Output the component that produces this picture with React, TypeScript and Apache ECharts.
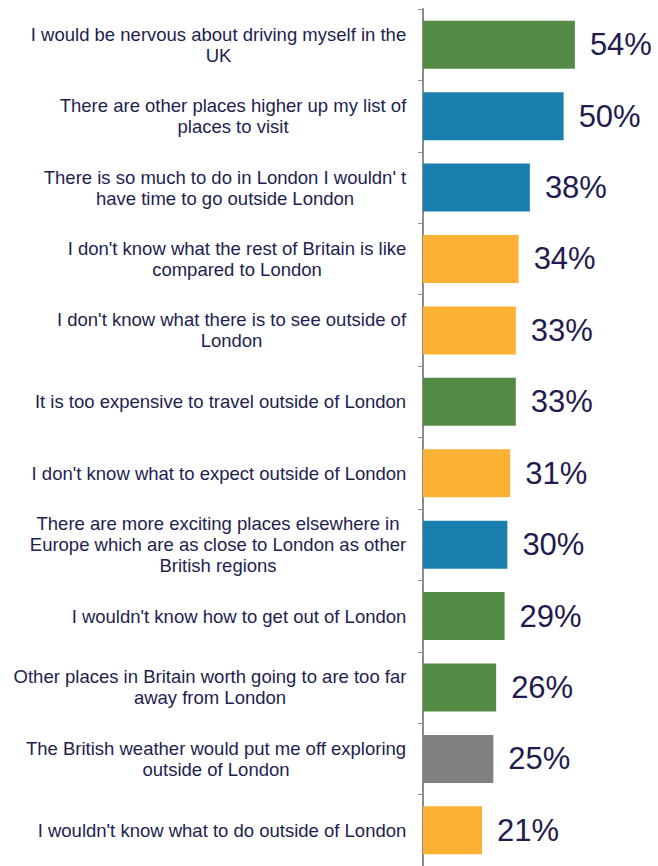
import React, { useEffect, useRef } from "react";
import * as echarts from "echarts";

const categories = [
  "I would be nervous about driving myself in the\nUK",
  "There are other places higher up my list of\nplaces to visit",
  "There is so much to do in London I wouldn' t\nhave time to go outside London",
  "I don't know what the rest of Britain is like\ncompared to London",
  "I don't know what there is to see outside of\nLondon",
  "It is too expensive to travel outside of London",
  "I don't know what to expect outside of London",
  "There are more exciting places elsewhere in\nEurope which are as close to London as other\nBritish regions",
  "I wouldn't know how to get out of London",
  "Other places in Britain worth going to are too far\naway from London",
  "The British weather would put me off exploring\noutside of London",
  "I wouldn't know what to do outside of London",
];

const values = [54, 50, 38, 34, 33, 33, 31, 30, 29, 26, 25, 21];

const GREEN = "#538a44";
const BLUE = "#1a7fae";
const ORANGE = "#fbb234";
const GRAY = "#808080";

const barColors = [GREEN, BLUE, BLUE, ORANGE, ORANGE, GREEN, ORANGE, BLUE, GREEN, GREEN, GRAY, ORANGE];

const LABEL_FONT_FAMILY = "Liberation Sans, Arial, sans-serif";
const LABEL_FONT_SIZE = 18.5;

export default function App() {
  const ref = useRef<HTMLDivElement>(null);
  useEffect(() => {
    if (!ref.current) return;
    const canvas = document.createElement("canvas");
    const ctx = canvas.getContext("2d")!;
    ctx.font = `normal normal ${LABEL_FONT_SIZE}px ${LABEL_FONT_FAMILY}`;
    const rich: Record<string, any> = {};
    categories.forEach((c, i) => {
      const w = Math.max(...c.split("\n").map((l) => ctx.measureText(l).width));
      rich["r" + i] = {
        width: Math.ceil(w) + 1,
        align: "center",
        fontFamily: LABEL_FONT_FAMILY,
        fontSize: LABEL_FONT_SIZE,
        lineHeight: 21,
        color: "#221e50",
      };
    });
    const chart = echarts.init(ref.current, null, { renderer: "svg" });
    chart.setOption({
      animation: false,
      backgroundColor: "#ffffff",
      grid: { left: 423, top: 9, width: 225, height: 859, containLabel: false },
      xAxis: {
        type: "value",
        min: 0,
        max: 80,
        show: false,
      },
      yAxis: {
        type: "category",
        inverse: true,
        data: categories,
        axisLine: { show: true, lineStyle: { color: "#8c8c8c", width: 2 } },
        axisTick: { show: true, length: 5, lineStyle: { color: "#8c8c8c", width: 1 } },
        axisLabel: {
          margin: 16,
          align: "right",
          formatter: (v: string, idx: number) => "{r" + idx + "|" + v + "}",
          rich,
        },
      },
      series: [
        {
          type: "bar",
          data: values.map((v, i) => ({ value: v, itemStyle: { color: barColors[i] } })),
          barWidth: 48,
          label: {
            show: true,
            position: "right",
            distance: 15,
            formatter: "{c}%",
            fontFamily: LABEL_FONT_FAMILY,
            fontSize: 31,
            color: "#1f1b4e",
          },
        },
      ],
    });
    return () => chart.dispose();
  }, []);
  return (
    <div
      ref={ref}
      style={{ position: "fixed", left: 0, top: 0, width: 658, height: 866 }}
    />
  );
}
